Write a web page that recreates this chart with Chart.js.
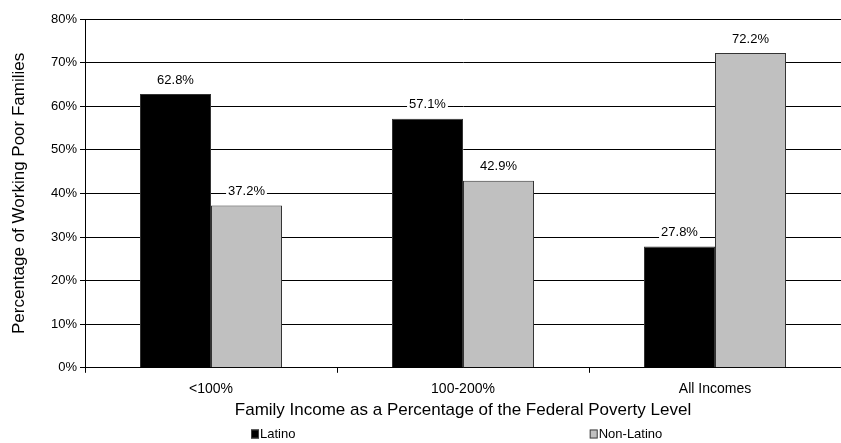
<!DOCTYPE html>
<html>
<head>
<meta charset="utf-8">
<script src="https://cdn.jsdelivr.net/npm/chart.js@4.4.1/dist/chart.umd.min.js"></script>
<style>
  html, body { margin: 0; padding: 0; background: #ffffff; overflow: hidden; }
  #wrap { position: relative; width: 841px; height: 443px; }
</style>
</head>
<body>
<div id="wrap"><canvas id="c" width="841" height="443"></canvas></div>
<script>
const categories = ['<100%', '100-200%', 'All Incomes'];
const seriesNames = ['Latino', 'Non-Latino'];
const latinoValues = [62.8, 57.1, 27.8];
const nonLatinoValues = [37.2, 42.9, 72.2];
const yTickValues = [0, 10, 20, 30, 40, 50, 60, 70, 80];
const yAxisTitle = 'Percentage of Working Poor Families';
const xAxisTitle = 'Family Income as a Percentage of the Federal Poverty Level';

const FONT = "'Liberation Sans', Arial, sans-serif";

const barLabelPlugin = {
  id: 'barLabels',
  afterDatasetsDraw(chart) {
    const ctx = chart.ctx;
    ctx.save();
    ctx.font = '13px ' + FONT;
    ctx.textAlign = 'center';
    ctx.textBaseline = 'middle';
    chart.data.datasets.forEach((ds, di) => {
      const meta = chart.getDatasetMeta(di);
      meta.data.forEach((bar, i) => {
        const txt = ds.data[i].toFixed(1) + '%';
        const w = ctx.measureText(txt).width;
        const cy = bar.y - 14;
        ctx.fillStyle = '#ffffff';
        ctx.fillRect(bar.x - w / 2 - 2, cy - 7, w + 4, 14);
        ctx.fillStyle = '#000000';
        ctx.fillText(txt, bar.x, cy);
      });
    });
    ctx.restore();
  }
};

const legendPlugin = {
  id: 'customLegend',
  afterDraw(chart) {
    const ctx = chart.ctx;
    const ca = chart.chartArea;
    const w = ca.right - ca.left;
    const y = 434;
    ctx.save();
    ctx.font = '13px ' + FONT;
    ctx.textBaseline = 'middle';
    ctx.textAlign = 'left';
    chart.data.datasets.forEach((ds, i) => {
      const x = ca.left + w * (0.2196 + 0.448 * i);
      ctx.fillStyle = ds.backgroundColor;
      ctx.fillRect(x, y - 4.5, 8, 9);
      ctx.strokeStyle = '#404040';
      ctx.lineWidth = 1;
      ctx.strokeRect(x + 0.5, y - 4, 7, 8);
      ctx.fillStyle = '#000000';
      ctx.fillText(ds.label, x + 9, y);
    });
    ctx.restore();
  }
};

new Chart(document.getElementById('c'), {
  type: 'bar',
  data: {
    labels: categories,
    datasets: [
      { label: seriesNames[0], data: latinoValues, backgroundColor: '#000000', borderColor: '#333333', borderWidth: 1 },
      { label: seriesNames[1], data: nonLatinoValues, backgroundColor: '#c0c0c0', borderColor: '#333333', borderWidth: 1 }
    ]
  },
  options: {
    responsive: false,
    animation: false,
    devicePixelRatio: 1,
    layout: { padding: { top: 19, right: 0, bottom: 18, left: 0 } },
    datasets: { bar: { categoryPercentage: 0.5636, barPercentage: 1.0 } },
    plugins: {
      legend: { display: false },
      title: { display: false },
      tooltip: { enabled: false }
    },
    scales: {
      x: {
        grid: { display: true, drawOnChartArea: false, drawTicks: true, tickLength: 5, color: '#000000', offset: true },
        border: { display: true, color: '#000000', width: 1 },
        ticks: { color: '#000000', font: { family: FONT, size: 14 }, padding: 8, maxRotation: 0 },
        title: { display: true, text: xAxisTitle, color: '#000000', font: { family: FONT, size: 17 }, padding: { top: -5, bottom: 4 } }
      },
      y: {
        min: 0,
        max: 80,
        afterFit(scale) { scale.width = 85; },
        afterBuildTicks(scale) { scale.ticks = yTickValues.map(v => ({ value: v })); },
        grid: { color: '#000000', lineWidth: 1, drawTicks: true, tickLength: 5 },
        border: { display: true, color: '#000000', width: 1 },
        ticks: { color: '#000000', font: { family: FONT, size: 13 }, padding: 3, callback: v => v + '%' },
        title: { display: true, text: yAxisTitle, color: '#000000', font: { family: FONT, size: 17 }, padding: { top: 9, bottom: 0 } }
      }
    }
  },
  plugins: [barLabelPlugin, legendPlugin]
});
</script>
</body>
</html>
